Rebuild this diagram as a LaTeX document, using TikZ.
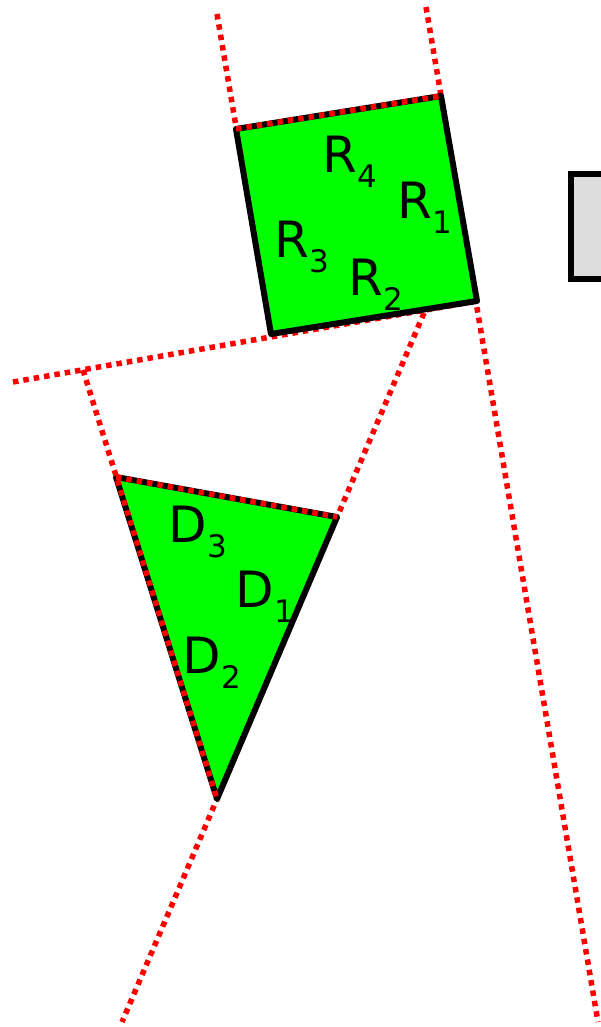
\documentclass[tikz,border=0pt]{standalone}
\usepackage{fontspec}
\setmainfont{DejaVu Sans}
\definecolor{boxgrey}{HTML}{DDDDDD}
\definecolor{shapegreen}{HTML}{00FF00}
\newcommand{\lbl}[2]{{\fontsize{50}{60}\selectfont #1}\kern1pt\raisebox{-15pt}{\fontsize{31}{31}\selectfont #2}}
\tikzset{
  redline/.style={draw=red, line width=5.5pt, dash pattern=on 5.5pt off 5pt},
  shapeline/.style={draw=black, fill=shapegreen, line width=6pt, line join=round},
  labeltext/.style={anchor=base west, inner sep=0pt}
}
\begin{document}
\begin{tikzpicture}[x=1pt,y=-1pt]
\useasboundingbox (0,0) rectangle (601,1027);
\clip (0,0) rectangle (601,1027);
% corners
\coordinate (S1) at (236,129);
\coordinate (S2) at (441,96);
\coordinate (S3) at (477,301);
\coordinate (S4) at (271,334);
\coordinate (T1) at (116,477);
\coordinate (T2) at (337,517);
\coordinate (T3) at (217,799);
% free ends of the construction lines
\coordinate (A1) at (217,14);
\coordinate (A2) at (426,7);
\coordinate (A3) at (598,1022);
\coordinate (A4) at (13,382);
\coordinate (A5) at (83,370);
\coordinate (A6) at (424,313);
\coordinate (A7) at (122,1022);
% lines below the shapes
\draw[redline] (A1) -- (S4);
\draw[redline] (A2) -- (A3);
\draw[redline] (A4) -- (S3);
\draw[redline] (A6) -- (A7);
% shapes
\draw[shapeline] (S1) -- (S2) -- (S3) -- (S4) -- cycle;
\draw[shapeline] (T1) -- (T2) -- (T3) -- cycle;
% lines over the shapes
\draw[redline] (S1) -- (S2);
\draw[redline] (T1) -- (T2);
\draw[redline] (A5) -- (T3);
% grey box
\draw[draw=black, fill=boxgrey, line width=6pt] (571,174) rectangle (640,279);
% labels
\node[labeltext] (r4) at (322,173) {\lbl{R}{4}};
\node[labeltext] (r1) at (397,218) {\lbl{R}{1}};
\node[labeltext] (r3) at (274,257) {\lbl{R}{3}};
\node[labeltext] (r2) at (348,295) {\lbl{R}{2}};
\node[labeltext] (d3) at (168,542) {\lbl{D}{3}};
\node[labeltext] (d1) at (235,607) {\lbl{D}{1}};
\node[labeltext] (d2) at (182,673) {\lbl{D}{2}};
\end{tikzpicture}
\end{document}
